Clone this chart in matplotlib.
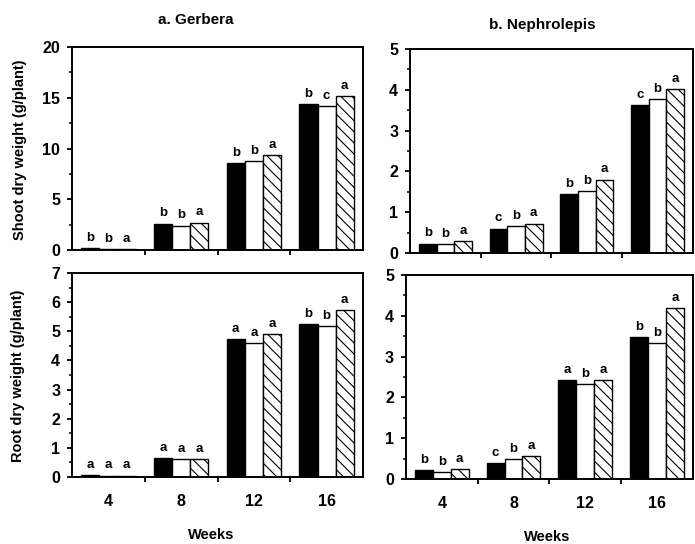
import numpy as np
import matplotlib
matplotlib.use('Agg')
import matplotlib.pyplot as plt
from matplotlib.ticker import MultipleLocator

plt.rcParams['font.family'] = ['Liberation Sans', 'DejaVu Sans']
plt.rcParams['font.weight'] = 'bold'
plt.rcParams['hatch.linewidth'] = 0.8

weeks = ['4', '8', '12', '16']

# shoot dry weight (g/plant): black, white, hatched bars
gerb_shoot_black = [0.2, 2.6, 8.55, 14.4]
gerb_shoot_white = [0.13, 2.4, 8.75, 14.15]
gerb_shoot_hatch = [0.13, 2.7, 9.35, 15.2]
gerb_shoot_let = [['b', 'b', 'a'], ['b', 'b', 'a'], ['b', 'b', 'a'], ['b', 'c', 'a']]

neph_shoot_black = [0.23, 0.6, 1.45, 3.63]
neph_shoot_white = [0.21, 0.66, 1.51, 3.78]
neph_shoot_hatch = [0.29, 0.72, 1.8, 4.01]
neph_shoot_let = [['b', 'b', 'a'], ['c', 'b', 'a'], ['b', 'b', 'a'], ['c', 'b', 'a']]

# root dry weight (g/plant)
gerb_root_black = [0.06, 0.65, 4.74, 5.26]
gerb_root_white = [0.05, 0.6, 4.59, 5.19]
gerb_root_hatch = [0.05, 0.6, 4.91, 5.74]
gerb_root_let = [['a', 'a', 'a'], ['a', 'a', 'a'], ['a', 'a', 'a'], ['b', 'b', 'a']]

neph_root_black = [0.22, 0.4, 2.43, 3.47]
neph_root_white = [0.17, 0.48, 2.32, 3.33]
neph_root_hatch = [0.24, 0.57, 2.43, 4.18]
neph_root_let = [['b', 'b', 'a'], ['c', 'b', 'a'], ['a', 'b', 'a'], ['b', 'b', 'a']]


def draw_panel(ax, black, white, hatch, letters, ymax, major, minor, bottom_labels):
    x = np.arange(len(weeks))
    w = 0.25
    series = [(black, dict(color='black', edgecolor='black')),
              (white, dict(color='white', edgecolor='black')),
              (hatch, dict(color='white', edgecolor='black', hatch='\\\\\\'))]
    for k, (vals, style) in enumerate(series):
        xs = x + (k - 1) * w
        ax.bar(xs, vals, width=w, linewidth=1.0, **style)
        for i, v in enumerate(vals):
            ax.annotate(letters[i][k], (xs[i], v), xytext=(0, 3), textcoords='offset points',
                        ha='center', va='bottom', fontsize=9.5, fontweight='bold')
    ax.set_xlim(-0.5, len(weeks) - 0.5)
    ax.set_ylim(0, ymax)
    ax.yaxis.set_major_locator(MultipleLocator(major))
    ax.yaxis.set_minor_locator(MultipleLocator(minor))
    ax.tick_params(axis='y', which='major', direction='out', length=3.5, width=1.3, labelsize=11.5, pad=5)
    ax.tick_params(axis='y', which='minor', direction='out', length=2.5, width=1.1)
    ax.set_xticks(x)
    ax.set_xticks(x[:-1] + 0.5, minor=True)
    ax.tick_params(axis='x', which='major', length=0, pad=12, labelsize=11.5)
    ax.tick_params(axis='x', which='minor', direction='out', length=3.5, width=1.3)
    if bottom_labels:
        ax.set_xticklabels(weeks, fontweight='bold')
    else:
        ax.set_xticklabels([])
    for s in ax.spines.values():
        s.set_linewidth(1.4)
    for lab in ax.get_yticklabels():
        lab.set_fontweight('bold')


fig = plt.figure(figsize=(6.95, 5.44), dpi=100)
ax1 = fig.add_axes([0.1036, 0.5404, 0.4187, 0.3732])
ax2 = fig.add_axes([0.590, 0.5349, 0.407, 0.375])
ax3 = fig.add_axes([0.1036, 0.1232, 0.4187, 0.375])
ax4 = fig.add_axes([0.584, 0.1195, 0.413, 0.375])

draw_panel(ax1, gerb_shoot_black, gerb_shoot_white, gerb_shoot_hatch, gerb_shoot_let, 20, 5, 2.5, False)
draw_panel(ax2, neph_shoot_black, neph_shoot_white, neph_shoot_hatch, neph_shoot_let, 5, 1, 0.5, False)
draw_panel(ax3, gerb_root_black, gerb_root_white, gerb_root_hatch, gerb_root_let, 7, 1, 0.5, True)
draw_panel(ax4, neph_root_black, neph_root_white, neph_root_hatch, neph_root_let, 5, 1, 0.5, True)

fig.text(0.281, 0.963, 'a. Gerbera', ha='center', va='center', fontsize=11, fontweight='bold')
fig.text(0.780, 0.954, 'b. Nephrolepis', ha='center', va='center', fontsize=11, fontweight='bold')
fig.text(0.029, 0.724, 'Shoot dry weight (g/plant)', rotation=90, ha='center', va='center',
         fontsize=10.5, fontweight='bold')
fig.text(0.026, 0.31, 'Root dry weight (g/plant)', rotation=90, ha='center', va='center',
         fontsize=10.5, fontweight='bold')
fig.text(0.304, 0.017, 'Weeks', ha='center', va='center', fontsize=10.5, fontweight='bold')
fig.text(0.788, 0.013, 'Weeks', ha='center', va='center', fontsize=10.5, fontweight='bold')

fig.savefig('out.png', dpi=100)
